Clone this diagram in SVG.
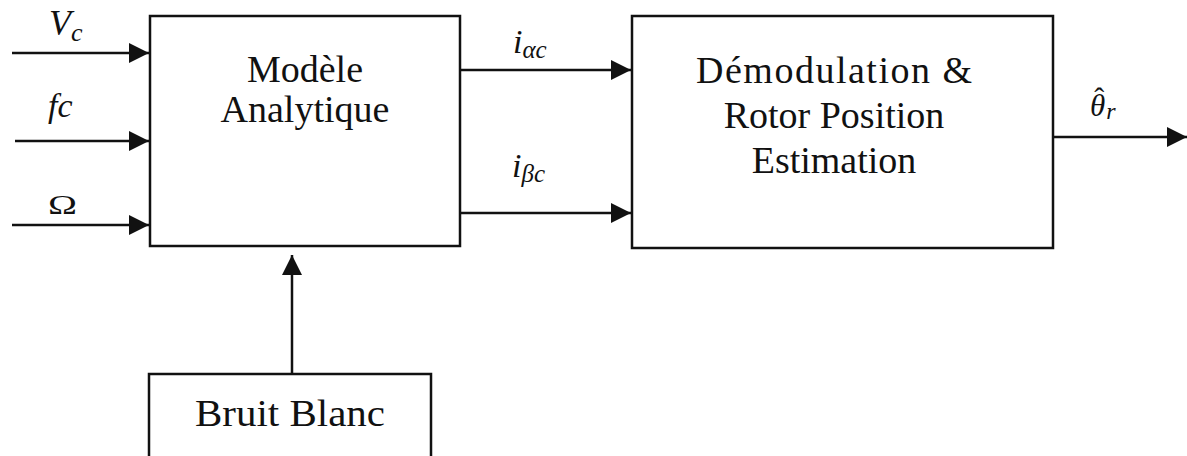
<svg xmlns="http://www.w3.org/2000/svg" width="1187" height="456" viewBox="0 0 1187 456">
<style>
.box{fill:#fff;stroke:#111;stroke-width:2.5}
.ln{stroke:#111;stroke-width:2.5;fill:none}
text.lbl{font-family:'Liberation Serif',serif;font-size:38px;fill:#111;text-anchor:middle}
text.math{font-family:'Liberation Serif',serif;font-style:italic;fill:#111}
text.sym{font-family:'Liberation Serif',serif;fill:#111}
</style>
<defs>
<marker id="ah" viewBox="0 0 20 20" refX="20" refY="10" markerWidth="20" markerHeight="20" markerUnits="userSpaceOnUse" orient="auto">
<path d="M0,0 L20,10 L0,20 Z" fill="#111"/>
</marker>
</defs>
<rect width="1187" height="456" fill="#fff"/>
<g id="connectors">
<line class="ln" x1="12" y1="53" x2="149" y2="53" marker-end="url(#ah)"/>
<line class="ln" x1="15" y1="141" x2="149" y2="141" marker-end="url(#ah)"/>
<line class="ln" x1="12" y1="225" x2="149" y2="225" marker-end="url(#ah)"/>
<line class="ln" x1="461" y1="70" x2="631" y2="70" marker-end="url(#ah)"/>
<line class="ln" x1="461" y1="213" x2="631" y2="213" marker-end="url(#ah)"/>
<line class="ln" x1="1053" y1="137" x2="1187" y2="137" marker-end="url(#ah)"/>
<line class="ln" x1="292" y1="374" x2="292" y2="255" marker-end="url(#ah)"/>
</g>
<g id="labels">
<text class="math" x="49" y="35" font-size="36">V<tspan font-size="26" dy="6">c</tspan></text>
<text class="math" x="48" y="117" font-size="34">fc</text>
<text class="sym" x="48" y="214" font-size="28" textLength="29" lengthAdjust="spacingAndGlyphs">Ω</text>
<text class="math" x="513" y="53" font-size="34">i<tspan font-size="25" dy="5">αc</tspan></text>
<text class="math" x="512" y="177" font-size="34">i<tspan font-size="25" dy="5">βc</tspan></text>
<text class="math" x="1090" y="116" font-size="31">θ<tspan font-style="normal" font-size="30" dx="-11" dy="-8">ˆ</tspan><tspan font-size="24" dx="2" dy="11">r</tspan></text>
</g>
<g id="modele">
<rect class="box" x="150" y="16" width="310" height="230"/>
<text class="lbl" x="305" y="82">Modèle</text>
<text class="lbl" x="305" y="122">Analytique</text>
</g>
<g id="demod">
<rect class="box" x="632" y="16" width="421" height="232"/>
<text class="lbl" x="834" y="83" textLength="276" lengthAdjust="spacing">Démodulation &amp;</text>
<text class="lbl" x="834" y="128">Rotor Position</text>
<text class="lbl" x="834" y="173">Estimation</text>
</g>
<g id="bruit">
<rect class="box" x="149" y="374" width="282" height="100"/>
<text class="lbl" x="290" y="426" textLength="190" lengthAdjust="spacingAndGlyphs">Bruit Blanc</text>
</g>
</svg>
